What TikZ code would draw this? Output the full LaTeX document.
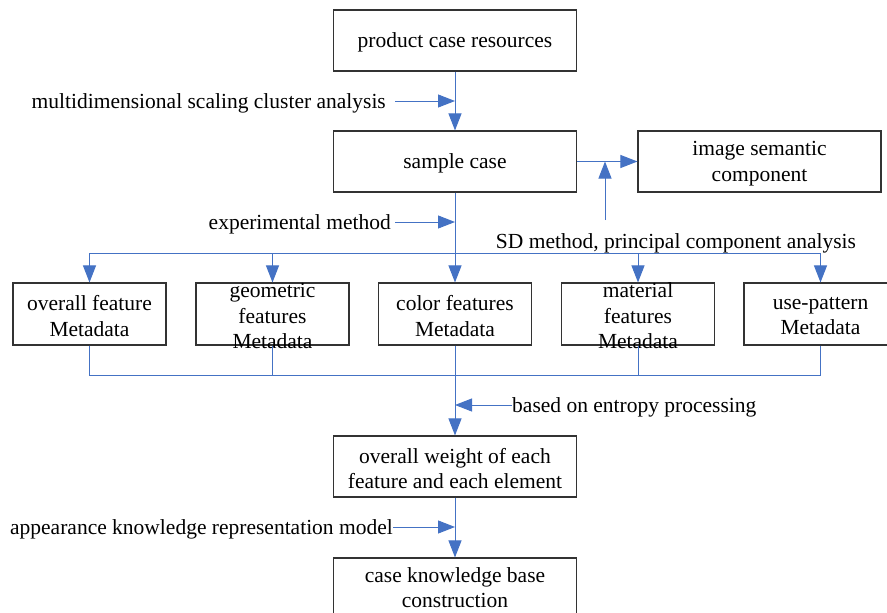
\documentclass[tikz,border=0pt]{standalone}
\usepackage{fontspec}
\setmainfont{Liberation Serif}
\usetikzlibrary{arrows.meta}
\definecolor{lnblue}{RGB}{68,114,196}
\begin{document}
\begin{tikzpicture}[x=1pt,y=-1pt,
 box/.style={draw=black!80, line width=1.1pt, minimum width=243pt, minimum height=61pt, inner sep=0pt},
 meta/.style={box, minimum width=153pt, minimum height=62pt},
 txt/.style={font=\fontsize{21.5}{25.5}\selectfont, align=center, inner sep=0pt, yshift=-2pt},
 conn/.style={draw=lnblue, line width=1pt},
 arr/.style={conn, -{Triangle[length=17pt,width=13pt]}},
]
\useasboundingbox (0,0) rectangle (887,613);
% main boxes
\node[box] (prod) at (455,40.5) {};
\node[txt] at (prod) {product case resources};
\node[box] (sample) at (455,161.5) {};
\node[txt] at (sample) {sample case};
\node[box] (image) at (759.5,161.5) {};
\node[txt] at (image) {image semantic\\component};
% metadata boxes
\node[meta] (overall) at (89.5,314) {};
\node[txt] at (overall) {overall feature\\Metadata};
\node[meta] (geom) at (272.5,314) {};
\node[txt] at (geom) {geometric\\features\\Metadata};
\node[meta] (color) at (455,314) {};
\node[txt] at (color) {color features\\Metadata};
\node[meta] (mat) at (638,314) {};
\node[txt] at (mat) {material\\features\\Metadata};
\node[meta] (use) at (820.5,314) {};
\node[txt] at (use) {use-pattern\\Metadata};
% lower boxes
\node[box] (weight) at (455,466.5) {};
\node[txt] at (weight) {overall weight of each\\feature and each element};
\node[box] (kb) at (455,588.5) {};
\node[txt, yshift=3pt] at (kb) {case knowledge base\\construction};
% side labels
\node[txt, anchor=east] (mds) at (386,101) {multidimensional scaling cluster analysis};
\node[txt, anchor=east] (exp) at (391,222) {experimental method};
\node[txt] (sd) at (676,241) {SD method, principal component analysis};
\node[txt, anchor=west] (ent) at (512,405) {based on entropy processing};
\node[txt, anchor=east] (app) at (393,527) {appearance knowledge representation model};
% coordinates
\coordinate (split) at (455,253);
\coordinate (join) at (455,375);
\coordinate (sdfoot) at (605,220);
% main flow
\draw[arr] (prod.south) -- (sample.north);
\draw[arr] ([xshift=9pt,yshift=2pt]mds.east) -- ([yshift=2pt]mds.east -| prod.south);
\draw[arr] (sample.east) -- (image.west);
\draw[arr] (sdfoot) -- (sdfoot |- sample.east);
\draw[arr] (sample.south) -- (color.north);
\draw[arr] ([xshift=4pt,yshift=2pt]exp.east) -- ([yshift=2pt]exp.east -| sample.south);
\draw[arr] (split) -| (overall.north);
\draw[arr] (split) -| (geom.north);
\draw[arr] (split) -| (mat.north);
\draw[arr] (split) -| (use.north);
\draw[conn] (overall.south) |- (join);
\draw[conn] (geom.south) |- (join);
\draw[conn] (mat.south) |- (join);
\draw[conn] (use.south) |- (join);
\draw[arr] (color.south) -- (weight.north);
\draw[arr] ([yshift=2pt]ent.west) -- ([yshift=2pt]ent.west -| color.south);
\draw[arr] (weight.south) -- (kb.north);
\draw[arr] ([yshift=2pt]app.east) -- ([yshift=2pt]app.east -| weight.south);
\end{tikzpicture}
\end{document}
